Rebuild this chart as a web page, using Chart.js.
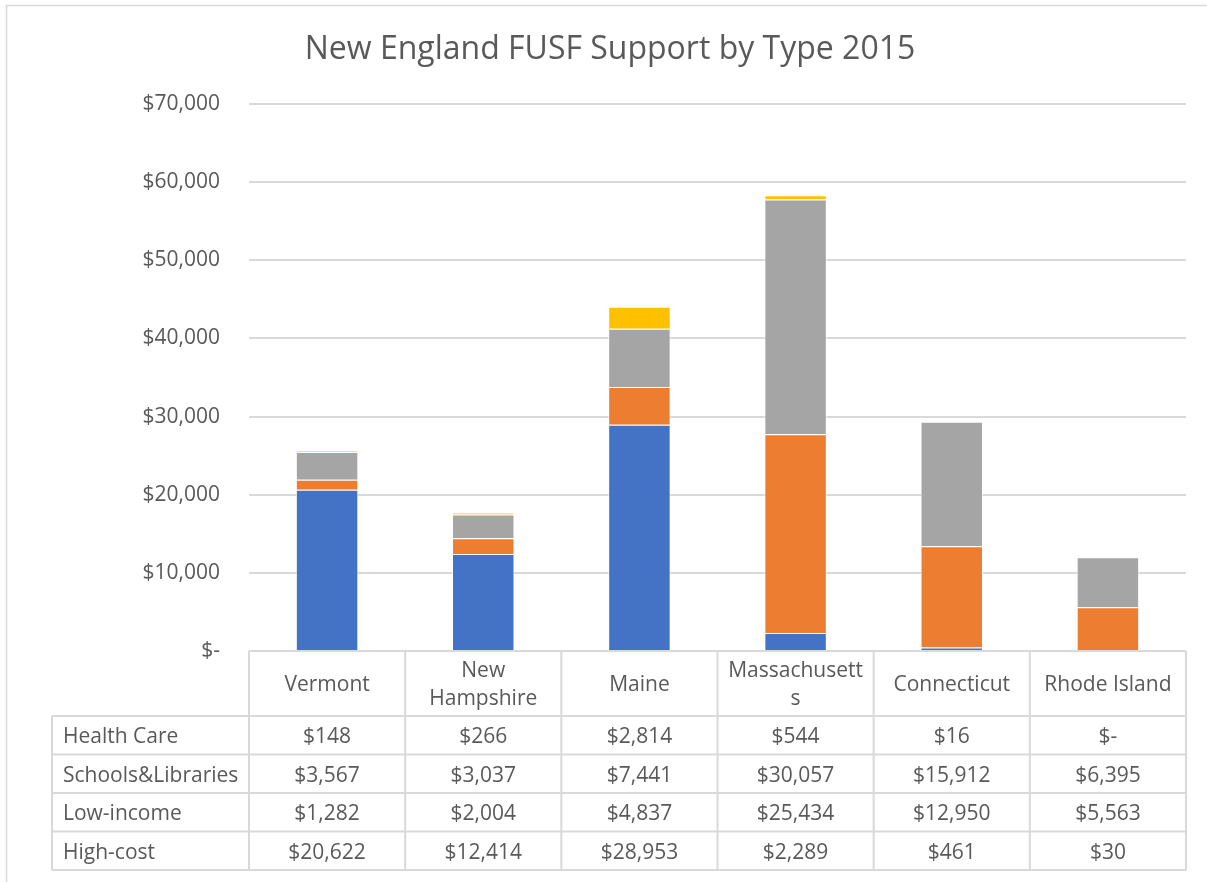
<!DOCTYPE html>
<html>
<head>
<meta charset="utf-8">
<script src="https://cdn.jsdelivr.net/npm/chart.js@4/dist/chart.umd.min.js"></script>
<style>
  html, body { margin: 0; padding: 0; background: #fff; }
  canvas { display: block; }
</style>
</head>
<body>
<canvas id="grafico" width="1207" height="882"></canvas>
<script>
// states, in column order
const estados = ['Vermont', 'New Hampshire', 'Maine', 'Massachusetts', 'Connecticut', 'Rhode Island'];
// header text as it wraps inside the table cells
const rotulosTabela = ['Vermont', ['New', 'Hampshire'], 'Maine', ['Massachusett', 's'], 'Connecticut', 'Rhode Island'];

const highCost = [20622, 12414, 28953, 2289, 461, 30];
const lowIncome = [1282, 2004, 4837, 25434, 12950, 5563];
const schoolsLibraries = [3567, 3037, 7441, 30057, 15912, 6395];
const healthCare = [148, 266, 2814, 544, 16, 0];

const ticksY = [0, 10000, 20000, 30000, 40000, 50000, 60000, 70000];

const corTexto = '#595959';
const corLinha = '#d9d9d9';
const fonte = '"Open Sans", "Noto Sans", sans-serif';

function formatarDolar(v) {
  if (v === 0) return '$-';
  return '$' + v.toLocaleString('en-US');
}

// title, outer frame and the data table under the plot
const tabelaPlugin = {
  id: 'tabelaDados',
  beforeDraw(chart) {
    const c = chart.ctx;
    c.save();
    c.strokeStyle = corLinha;
    c.lineWidth = 1.5;
    c.beginPath();
    c.moveTo(6.5, chart.height);
    c.lineTo(6.5, 5.5);
    c.lineTo(chart.width, 5.5);
    c.stroke();
    c.restore();
  },
  afterDraw(chart) {
    const c = chart.ctx;
    const area = chart.chartArea;
    const n = estados.length;
    const colW = (area.right - area.left) / n;
    const topo = area.bottom;
    const altCab = 65;
    const altLinha = 38.5;
    const esq = 52;
    const linhas = chart.data.datasets.slice().reverse();
    const fundo = topo + altCab + altLinha * linhas.length;

    c.save();
    // title
    c.fillStyle = corTexto;
    c.font = '32px ' + fonte;
    c.textAlign = 'center';
    c.textBaseline = 'middle';
    c.fillText('New England FUSF Support by Type 2015', 610, 50);

    // grid of the table
    c.strokeStyle = corLinha;
    c.lineWidth = 2;
    c.beginPath();
    c.moveTo(area.left, topo);
    c.lineTo(area.right, topo);
    for (let r = 0; r <= linhas.length; r++) {
      const y = topo + altCab + altLinha * r;
      c.moveTo(esq, y);
      c.lineTo(area.right, y);
    }
    c.moveTo(esq, topo + altCab);
    c.lineTo(esq, fundo);
    for (let i = 0; i <= n; i++) {
      const x = area.left + colW * i;
      c.moveTo(x, topo);
      c.lineTo(x, fundo);
    }
    c.stroke();

    // header cells
    c.font = '21px ' + fonte;
    c.fillStyle = corTexto;
    c.textAlign = 'center';
    c.textBaseline = 'middle';
    rotulosTabela.forEach((rot, i) => {
      const x = chart.scales.x.getPixelForValue(i);
      const partes = Array.isArray(rot) ? rot : [rot];
      const meio = topo + altCab / 2 + 2;
      const lh = 28;
      partes.forEach((p, k) => {
        c.fillText(p, x, meio + (k - (partes.length - 1) / 2) * lh);
      });
    });

    // value rows
    linhas.forEach((ds, r) => {
      const y = topo + altCab + altLinha * r + altLinha / 2 + 2;
      c.textAlign = 'left';
      c.fillText(ds.label, esq + 11, y);
      c.textAlign = 'center';
      ds.data.forEach((v, i) => {
        c.fillText(formatarDolar(v), chart.scales.x.getPixelForValue(i), y);
      });
    });
    c.restore();
  }
};

const ctx = document.getElementById('grafico').getContext('2d');

const graficoBarras = new Chart(ctx, {
  type: 'bar',
  data: {
    labels: estados,
    datasets: [
      { label: 'High-cost', data: highCost, backgroundColor: '#4472c4' },
      { label: 'Low-income', data: lowIncome, backgroundColor: '#ed7d31' },
      { label: 'Schools&Libraries', data: schoolsLibraries, backgroundColor: '#a5a5a5' },
      { label: 'Health Care', data: healthCare, backgroundColor: '#ffc000' }
    ]
  },
  options: {
    responsive: false,
    animation: false,
    layout: {
      padding: { left: 0, right: 21, top: 104, bottom: 231 }
    },
    datasets: {
      bar: {
        categoryPercentage: 1,
        barPercentage: 0.4,
        borderColor: 'rgba(255,255,255,0.7)',
        borderWidth: 1
      }
    },
    plugins: {
      legend: { display: false },
      title: { display: false },
      tooltip: { enabled: false }
    },
    scales: {
      x: {
        stacked: true,
        display: false
      },
      y: {
        stacked: true,
        min: 0,
        max: 70000,
        afterFit(scale) { scale.width = 249; },
        afterBuildTicks(scale) { scale.ticks = ticksY.map(v => ({ value: v })); },
        border: { display: false },
        grid: { color: corLinha, lineWidth: 2, drawTicks: false },
        ticks: {
          color: corTexto,
          padding: 29,
          font: { family: fonte, size: 21 },
          callback: v => formatarDolar(v)
        }
      }
    }
  },
  plugins: [tabelaPlugin]
});
</script>
</body>
</html>
